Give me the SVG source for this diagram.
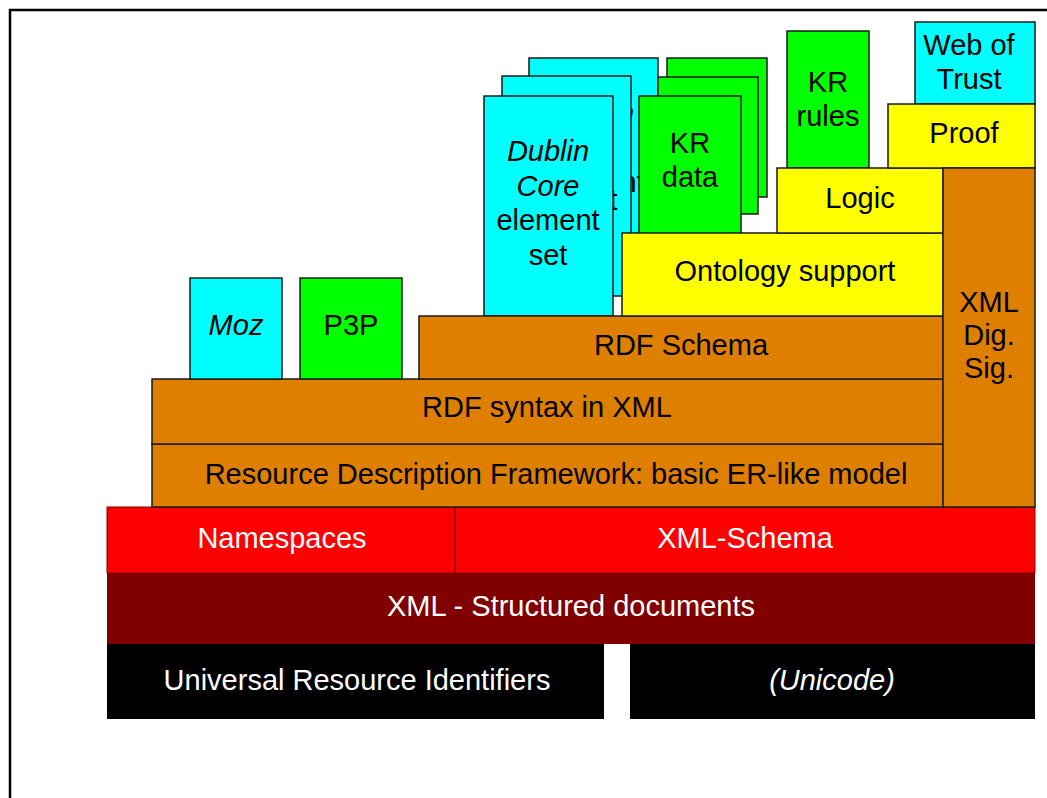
<svg xmlns="http://www.w3.org/2000/svg" width="1047" height="798" viewBox="0 0 1047 798">
<style>
.b{stroke:#1a1a1a;stroke-width:1.5}
.cy{fill:#00FFFF}.gr{fill:#00FF00}.ye{fill:#FFFF00}.or{fill:#DF7F00}
.t{font-family:"Liberation Sans",Arial,sans-serif;font-size:29px;fill:#000;text-anchor:middle}
.w{fill:#fff}.i{font-style:italic}
</style>
<rect x="0" y="0" width="1047" height="798" fill="#fff"/>
<rect x="10" y="10" width="1100" height="900" fill="none" stroke="#000" stroke-width="2.5"/>
<g id="uri"><rect x="107" y="644" width="497" height="75" fill="#000"/><text class="t w" x="357" y="690">Universal Resource Identifiers</text></g>
<g id="unicode"><rect x="630" y="644" width="405" height="75" fill="#000"/><text class="t w i" x="832" y="690">(Unicode)</text></g>
<g id="xml"><rect x="107" y="573" width="928" height="71" fill="#800000"/><text class="t w" x="571" y="616">XML - Structured documents</text></g>
<g id="namespaces"><rect x="107" y="507" width="348" height="66" fill="#FF0000" stroke="#800000" stroke-width="1"/><text class="t w" x="282" y="548">Namespaces</text></g>
<g id="xmlschema"><rect x="455" y="507" width="580" height="66" fill="#FF0000" stroke="#800000" stroke-width="1"/><text class="t w" x="745" y="548">XML-Schema</text></g>
<g id="rdfmodel"><rect class="or b" x="152" y="444" width="791" height="63"/><text class="t" x="556" y="484">Resource Description Framework: basic ER-like model</text></g>
<g id="rdfsyntax"><rect class="or b" x="152" y="379" width="791" height="65"/><text class="t" x="547" y="417">RDF syntax in XML</text></g>
<g id="moz"><rect class="cy b" x="190" y="278" width="92" height="101"/><text class="t i" x="236" y="335">Moz</text></g>
<g id="p3p"><rect class="gr b" x="300" y="278" width="102" height="101"/><text class="t" x="351" y="335">P3P</text></g>
<g id="dublin3"><rect class="cy b" x="529" y="58" width="129" height="220"/><text class="t" x="593" y="123"><tspan class="i">Dublin</tspan><tspan class="i" x="593" dy="34.5">Core</tspan><tspan x="593" dy="34.5">element</tspan><tspan x="593" dy="34.5">set</tspan></text></g>
<g id="kr3"><rect class="gr b" x="667" y="58" width="100" height="139"/></g>
<g id="kr2"><rect class="gr b" x="658" y="77" width="100" height="137"/></g>
<g id="dublin2"><rect class="cy b" x="502" y="76" width="129" height="220"/><text class="t" x="566" y="141"><tspan class="i">Dublin</tspan><tspan class="i" x="566" dy="34.5">Core</tspan><tspan x="566" dy="34.5">element</tspan><tspan x="566" dy="34.5">set</tspan></text></g>
<g id="krdata"><rect class="gr b" x="639" y="96" width="102" height="140"/><text class="t" x="690" y="153">KR<tspan x="690" dy="34">data</tspan></text></g>
<g id="dublin"><rect class="cy b" x="484" y="96" width="129" height="220"/><text class="t" x="548" y="161"><tspan class="i">Dublin</tspan><tspan class="i" x="548" dy="34.5">Core</tspan><tspan x="548" dy="34.5">element</tspan><tspan x="548" dy="34.5">set</tspan></text></g>
<g id="rdfschema"><rect class="or b" x="419" y="316" width="524" height="63"/><text class="t" x="681" y="355">RDF Schema</text></g>
<g id="ontology"><rect class="ye b" x="622" y="233" width="321" height="83"/><text class="t" x="785" y="281">Ontology support</text></g>
<g id="krrules"><rect class="gr b" x="787" y="31" width="82" height="137"/><text class="t" x="828" y="92">KR<tspan x="828" dy="34">rules</tspan></text></g>
<g id="logic"><rect class="ye b" x="777" y="168" width="166" height="65"/><text class="t" x="860" y="208">Logic</text></g>
<g id="webtrust"><rect class="cy b" x="915" y="22" width="120" height="82"/><text class="t" x="969" y="55">Web of<tspan x="969" dy="34">Trust</tspan></text></g>
<g id="proof"><rect class="ye b" x="888" y="104" width="147" height="64"/><text class="t" x="964" y="143">Proof</text></g>
<g id="xmldigsig"><rect class="or b" x="943" y="168" width="92" height="339"/><text class="t" x="989" y="312">XML<tspan x="989" dy="33">Dig.</tspan><tspan x="989" dy="33">Sig.</tspan></text></g>
<g id="connectors"></g>
</svg>
